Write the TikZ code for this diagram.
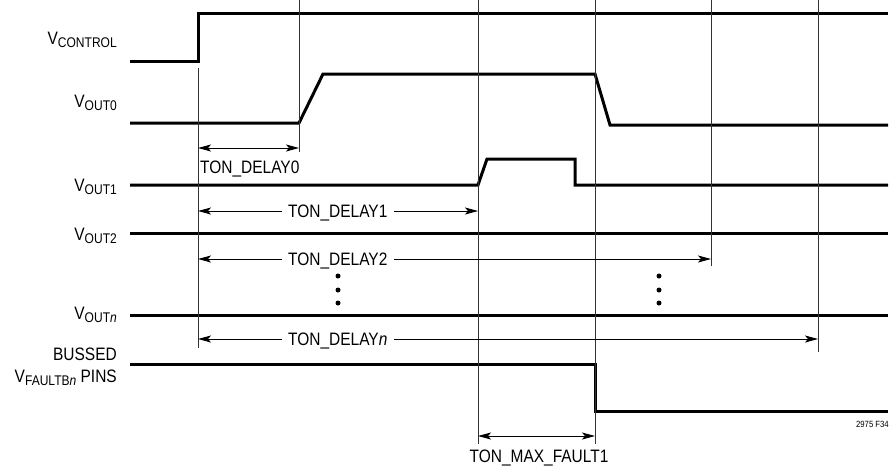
\documentclass[tikz,border=0pt]{standalone}
\usepackage{fontspec}
\setmainfont{Liberation Sans}[FakeStretch=0.86]
\usetikzlibrary{arrows.meta}
\newcommand{\sig}[1]{\raisebox{-3.5pt}{\fontsize{14}{14}\selectfont #1}}
\begin{document}
\begin{tikzpicture}[x=1pt,y=-1pt,
  wave/.style={line width=3pt},
  guide/.style={line width=0.9pt, black!80},
  tipx/.tip={Stealth[length=13pt,width=7pt,inset=3pt]},
  dimr/.style={line width=0.9pt, -tipx},
  dimb/.style={line width=0.9pt, tipx-tipx},
  lbl/.style={font=\fontsize{18}{18}\selectfont, inner sep=0pt, anchor=base east},
  dlbl/.style={font=\fontsize{18}{18}\selectfont, inner ysep=0pt, inner xsep=6pt, text height=13pt, text depth=0pt},
  dotm/.style={fill=black, circle, inner sep=0pt, minimum size=5pt}]
\useasboundingbox (0,0) rectangle (891,472);
% timing marks
\coordinate (g0) at (198,0);
\coordinate (g1) at (299,0);
\coordinate (g2) at (478,0);
\coordinate (g3) at (595,0);
\coordinate (g4) at (711,0);
\coordinate (g5) at (818,0);
% signal labels
\node[lbl] (lc) at (117,44) {V\sig{CONTROL}};
\node[lbl] (l0) at (117,107) {V\sig{OUT0}};
\node[lbl] (l1) at (117,191) {V\sig{OUT1}};
\node[lbl] (l2) at (117,240) {V\sig{OUT2}};
\node[lbl] (ln) at (117,319) {V\sig{OUT\textit{n}}};
\node[lbl] (lb1) at (117,360) {BUSSED};
\node[lbl] (lb2) at (117,382) {V\sig{FAULTB\textit{n}} PINS};
% waveforms
\draw[wave] (130,61) -- (198,61) -- (198,13) -- (888,13);
\draw[wave] (130,123) -- (299,123) -- (323,74) -- (595,74) -- (610,125) -- (888,125);
\draw[wave] (130,185) -- (478,185) -- (487,159) -- (575,159) -- (575,185) -- (888,185);
\draw[wave] (130,233) -- (888,233);
\draw[wave] (130,315) -- (888,315);
\draw[wave] (130,364) -- (595,364) -- (595,411) -- (888,411);
% guide lines
\draw[guide] (198,68) -- (198,348);
\draw[guide] (g1) -- (299,152);
\draw[guide] (g2) -- (478,444);
\draw[guide] (g3) -- (595,444);
\draw[guide] (g4) -- (711,266);
\draw[guide] (g5) -- (818,352);
% delay dimensions
\draw[dimb] (198,148) -- (299,148);
\node[dlbl, anchor=west, inner xsep=0pt] (d0) at (200,167) {TON\_DELAY0};
\node[dlbl, anchor=west] (d1) at (282,211) {TON\_DELAY1};
\draw[dimr] (d1.west) -- (d1.west -| g0);
\draw[dimr] (d1.east) -- (d1.east -| g2);
\node[dlbl, anchor=west] (d2) at (282,259) {TON\_DELAY2};
\draw[dimr] (d2.west) -- (d2.west -| g0);
\draw[dimr] (d2.east) -- (d2.east -| g4);
\node[dlbl, anchor=west] (dn) at (282,339) {TON\_DELAY\textit{n}};
\draw[dimr] (dn.west) -- (dn.west -| g0);
\draw[dimr] (dn.east) -- (dn.east -| g5);
\draw[dimb] (478,436) -- (595,436);
\node[dlbl, inner xsep=0pt] (dm) at (539,456) {TON\_MAX\_FAULT1};
% ellipsis dots
\node[dotm] (a1) at (338,276) {};
\node[dotm] (a2) at (338,290) {};
\node[dotm] (a3) at (338,303) {};
\node[dotm] (b1) at (659,276) {};
\node[dotm] (b2) at (659,290) {};
\node[dotm] (b3) at (659,303) {};
% figure number
\node[font=\fontsize{9}{9}\selectfont, inner sep=0pt, anchor=east] (fig) at (889,424) {2975 F34};
\end{tikzpicture}
\end{document}
